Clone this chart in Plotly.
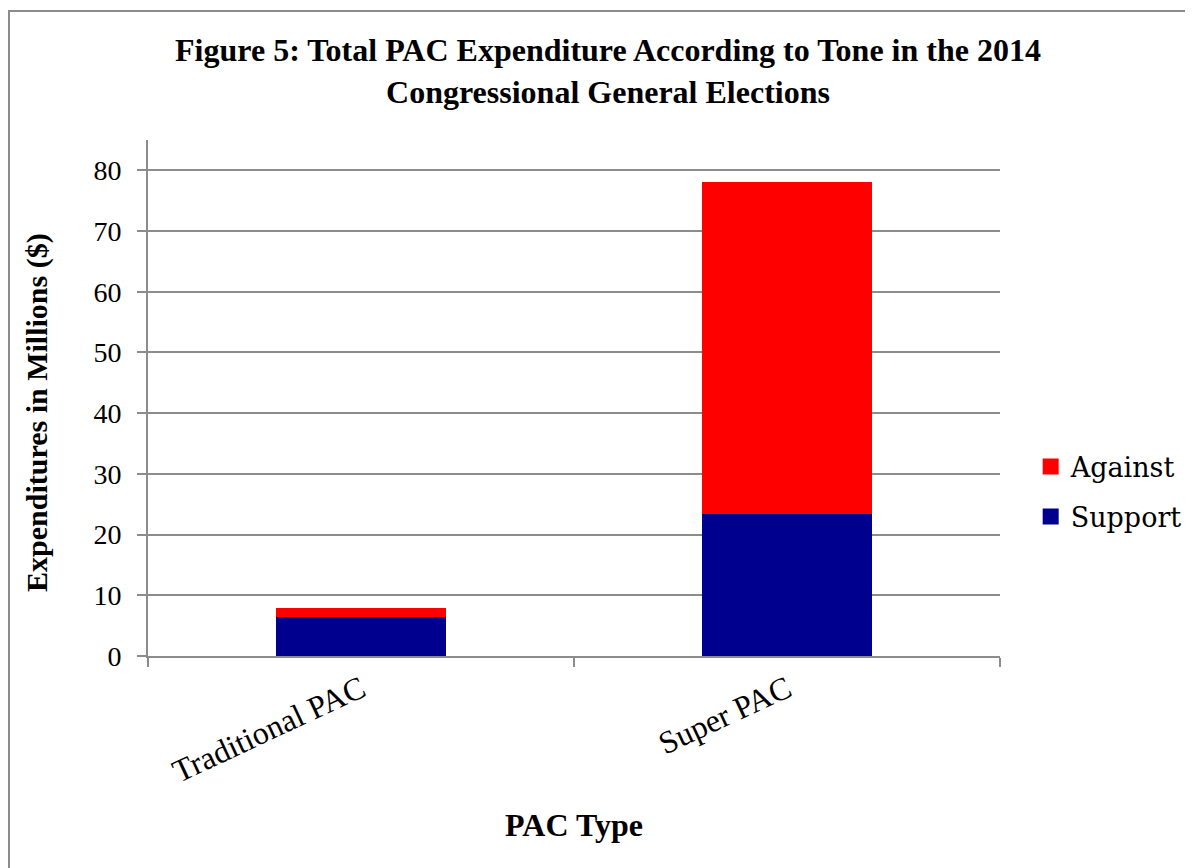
import plotly.graph_objects as go

categories = ["Traditional PAC", "Super PAC"]
support = [6.4, 23.4]
against = [1.45, 54.7]
legend_names = ["Against", "Support"]
colors = {"Support": "#00008F", "Against": "#FF0000"}

SERIF = "Liberation Serif, Times New Roman, serif"

# page has an 8px body margin; compensate so the plot lands where the reference has it
W, H = 1185, 860
L, T = 140, 132
PW, PH = 852, 516

fig = go.Figure()
fig.add_trace(go.Bar(x=categories, y=support, name="Support", width=0.4,
                     marker=dict(color=colors["Support"], line=dict(width=0)),
                     showlegend=False))
fig.add_trace(go.Bar(x=categories, y=against, name="Against", width=0.4,
                     marker=dict(color=colors["Against"], line=dict(width=0)),
                     showlegend=False))
# legend entries (square markers)
for nm in legend_names:
    fig.add_trace(go.Scatter(x=[None], y=[None], mode="markers", name=nm,
                             legendgroup=nm,
                             marker=dict(symbol="square", size=19, color=colors[nm])))

fig.update_layout(
    width=W, height=H,
    barmode="stack",
    paper_bgcolor="white", plot_bgcolor="white",
    margin=dict(l=L, r=W - L - PW, t=T, b=H - T - PH, autoexpand=False),
    title=dict(
        text="Figure 5: Total PAC Expenditure According to Tone in the 2014<br>Congressional General Elections",
        x=(608 - 8) / W, xanchor="center", y=1 - 53 / H, yanchor="top",
        font=dict(family=SERIF, size=32, color="black", weight="bold"),
    ),
    font=dict(family=SERIF, color="black"),
    legend=dict(x=1.036, xanchor="left", y=0.318, yanchor="middle",
                traceorder="grouped", tracegroupgap=12,
                font=dict(family="DejaVu Serif, serif", size=27, color="black"),
                bgcolor="rgba(0,0,0,0)"),
    xaxis=dict(
        type="category", tickson="boundaries", ticks="outside", ticklen=9,
        tickwidth=2, tickcolor="#8c8c8c", tickangle=-25,
        showline=True, linecolor="#8c8c8c", linewidth=2, showgrid=False,
        tickfont=dict(family=SERIF, size=32, color="black"),
        title=dict(text="<b>PAC Type</b>", standoff=25,
                   font=dict(family=SERIF, size=32, color="black")),
        range=[-0.5, 1.5],
    ),
    yaxis=dict(
        range=[0, 85], dtick=10, tick0=0, ticks="outside", ticklen=9,
        tickwidth=2, tickcolor="#8c8c8c", ticklabelstandoff=10,
        showline=True, linecolor="#8c8c8c", linewidth=2,
        showgrid=True, gridcolor="#8c8c8c", gridwidth=2,
        zeroline=False,
        tickfont=dict(family=SERIF, size=28, color="black"),
    ),
    annotations=[dict(text="<b>Expenditures in Millions ($)</b>", textangle=-90,
                      xref="paper", yref="paper",
                      x=(37 - 148) / PW, y=(656 - 413) / PH,
                      xanchor="center", yanchor="middle", showarrow=False,
                      font=dict(family=SERIF, size=30, color="black"))],
    shapes=[dict(type="rect", xref="paper", yref="paper",
                 x0=(9 - 148) / PW, x1=1.3, y0=-0.6, y1=(656 - 11) / PH,
                 line=dict(color="#8c8c8c", width=2), fillcolor="rgba(0,0,0,0)",
                 layer="below")],
)

fig.write_html("out.html")
